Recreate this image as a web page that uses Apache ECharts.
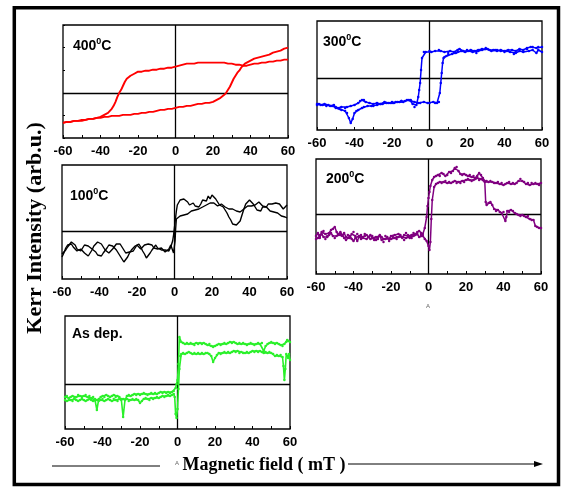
<!DOCTYPE html>
<html><head><meta charset="utf-8">
<script src="https://cdn.jsdelivr.net/npm/echarts@6/dist/echarts.min.js"></script>
<style>html,body{margin:0;padding:0;background:#fff}#c{width:561px;height:488px}</style>
</head><body><div id="c"></div>
<script>
// x ticks (mT)
const xTicks = [-60,-40,-20,0,20,40,60];
const panelLabels = ['400','300','100','200','As dep.'];
const colors = ['#ff0000','#0000ff','#000000','#800080','#2af02a'];

// 400 C (arb. units)
const p400Down = [[60,33],[58,33],[56,32],[54,32],[52,31],[50,31],[48,30],[46,30],[44,29],[42,29],[40,28],[38,27],[36,27],[34,28],[32,28],[30,29],[28,29],[26,30],[24,30],[22,30],[20,30],[18,30],[16,30],[14,30],[12,30],[10,29],[8,29],[6,29],[4,28],[2,27],[0,26],[-2,25],[-4,25],[-6,24],[-8,24],[-10,23],[-12,23],[-14,22],[-16,22],[-18,21],[-20,21],[-22,19],[-24,17],[-26,14],[-27,11],[-28,7],[-29,3],[-30,0],[-31,-4],[-32,-9],[-33,-13],[-34,-16],[-35,-18],[-36,-20],[-38,-22],[-40,-24],[-42,-25],[-44,-26],[-46,-26],[-48,-27],[-50,-27],[-52,-28],[-54,-28],[-56,-29],[-58,-29],[-60,-30]];
const p400Up = [[-60,-30],[-58,-29],[-56,-29],[-54,-28],[-52,-28],[-50,-28],[-48,-27],[-46,-26],[-44,-26],[-42,-25],[-40,-25],[-38,-24],[-36,-24],[-34,-23],[-32,-23],[-30,-23],[-28,-22],[-26,-22],[-24,-22],[-22,-21],[-20,-21],[-18,-20],[-16,-20],[-14,-19],[-12,-19],[-10,-18],[-8,-17],[-6,-17],[-4,-16],[-2,-16],[0,-15],[2,-14],[4,-14],[6,-13],[8,-13],[10,-12],[12,-11],[14,-11],[16,-10],[18,-10],[20,-9],[22,-7],[24,-5],[26,-2],[27,0],[28,3],[29,6],[30,10],[31,14],[32,17],[33,20],[34,22],[35,25],[36,27],[37,29],[38,30],[40,32],[42,34],[44,35],[46,36],[48,37],[50,38],[52,40],[54,41],[56,42],[58,44],[60,45]];

// 300 C
const p300Down = [[60,26],[58,28],[57,25],[55,28],[53,27],[52,29],[50,26],[48,27],[46,25],[45,24],[43,26],[41,27],[40,26],[38,27],[36,28],[35,28],[33,27],[31,29],[30,30],[28,28],[26,27],[25,25],[23,26],[21,27],[20,28],[18,27],[16,29],[15,28],[13,26],[11,27],[10,25],[8,26],[6,27],[5,28],[3,27],[1,26],[0,27],[-2,26],[-3,26],[-4,20],[-4.5,8],[-5,-5],[-5.5,-12],[-6,-19],[-7,-27],[-8,-29],[-9,-26],[-10,-23],[-12,-22],[-14,-24],[-15,-23],[-17,-24],[-19,-25],[-20,-24],[-22,-25],[-24,-24],[-26,-26],[-28,-25],[-30,-26],[-32,-25],[-34,-24],[-35,-22],[-36,-22],[-37,-23],[-38,-25],[-40,-27],[-42,-28],[-44,-29],[-45,-30],[-47,-29],[-49,-30],[-50,-29],[-52,-28],[-54,-27],[-55,-28],[-57,-27],[-59,-26],[-60,-27]];
const p300Up = [[-60,-26],[-58,-27],[-56,-26],[-55,-27],[-53,-28],[-51,-27],[-50,-30],[-48,-31],[-47,-32],[-45,-33],[-44,-35],[-43,-40],[-42,-45],[-41,-41],[-40,-35],[-39,-33],[-38,-32],[-36,-30],[-35,-29],[-33,-28],[-31,-28],[-30,-28],[-28,-27],[-26,-26],[-25,-26],[-23,-25],[-21,-25],[-20,-25],[-18,-24],[-16,-24],[-15,-23],[-13,-23],[-11,-22],[-10,-22],[-8,-24],[-6,-25],[-5,-25],[-3,-24],[-1,-25],[0,-25],[2,-24],[3,-25],[4,-25],[5,-24],[5.5,-15],[6,-5],[6.5,5],[7,15],[7.5,20],[8,21],[9,22],[10,23],[12,24],[14,25],[15,26],[17,27],[19,26],[20,27],[22,28],[24,27],[26,28],[28,29],[30,29],[32,28],[34,28],[36,27],[38,28],[40,27],[42,28],[44,28],[46,27],[48,29],[50,28],[52,30],[54,31],[55,31],[57,30],[58,31],[60,31]];

// 100 C
const p100Down = [[60,26],[59,24],[58,22],[57,24],[56,27],[55,29],[54,28],[53,30],[52,27],[51,25],[50,27],[49,24],[48,22],[47,24],[46,20],[45,18],[44,21],[43,24],[42,27],[41,29],[40,31],[39,30],[38,27],[37,22],[36,16],[35,10],[34,8],[33,6],[32,8],[31,7],[30,11],[29,14],[28,18],[27,21],[26,24],[25,22],[24,26],[23,28],[22,32],[21,34],[20,36],[19,32],[18,35],[17,30],[16,28],[15,31],[14,27],[13,24],[12,22],[11,25],[10,28],[9,30],[8,26],[7,29],[6,31],[5,32],[4,30],[3,31],[2,30],[1.5,26],[1,20],[0.5,12],[0,4],[-0.5,-4],[-1,-10],[-2,-16],[-3,-20],[-4,-22],[-5,-19],[-6,-17],[-7,-19],[-8,-21],[-9,-17],[-10,-14],[-11,-16],[-12,-19],[-13,-22],[-14,-24],[-15,-27],[-16,-23],[-17,-20],[-18,-16],[-19,-13],[-20,-12],[-21,-15],[-22,-17],[-23,-19],[-24,-22],[-25,-26],[-26,-28],[-27,-31],[-28,-28],[-29,-25],[-30,-22],[-31,-19],[-32,-17],[-33,-15],[-34,-16],[-35,-14],[-36,-17],[-37,-19],[-38,-22],[-39,-25],[-40,-27],[-41,-24],[-42,-21],[-43,-19],[-44,-18],[-45,-17],[-46,-15],[-47,-16],[-48,-14],[-49,-17],[-50,-20],[-51,-22],[-52,-18],[-53,-14],[-54,-12],[-55,-11],[-56,-13],[-57,-16],[-58,-19],[-59,-21],[-60,-23]];
const p100Up = [[-60,-26],[-59,-22],[-58,-17],[-57,-14],[-56,-12],[-55,-13],[-54,-16],[-53,-18],[-52,-20],[-51,-19],[-50,-18],[-49,-20],[-48,-22],[-47,-24],[-46,-25],[-45,-23],[-44,-19],[-43,-15],[-42,-13],[-41,-11],[-40,-10],[-39,-13],[-38,-16],[-37,-19],[-36,-21],[-35,-22],[-34,-20],[-33,-18],[-32,-16],[-31,-13],[-30,-11],[-29,-13],[-28,-16],[-27,-19],[-26,-22],[-25,-23],[-24,-21],[-23,-19],[-22,-20],[-21,-17],[-20,-14],[-19,-16],[-18,-18],[-17,-17],[-16,-14],[-15,-12],[-14,-13],[-13,-15],[-12,-14],[-11,-17],[-10,-19],[-9,-18],[-8,-16],[-7,-17],[-6,-19],[-5,-21],[-4,-20],[-3,-18],[-2,-14],[-1,-16],[-0.5,-22],[0,-24],[0.3,-10],[0.6,2],[1,12],[2,14],[3,15],[4,17],[5,16],[6,18],[7,17],[8,19],[9,20],[10,19],[11,21],[12,20],[13,22],[14,23],[15,24],[16,23],[17,26],[18,27],[19,28],[20,29],[21,28],[22,27],[23,25],[24,26],[25,27],[26,25],[27,24],[28,23],[29,22],[30,21],[31,22],[32,21],[33,20],[34,21],[35,19],[36,20],[37,22],[38,24],[39,25],[40,26],[41,25],[42,27],[43,26],[44,28],[45,29],[46,27],[47,25],[48,23],[49,24],[50,22],[51,20],[52,21],[53,19],[54,17],[55,18],[56,16],[57,15],[58,16],[59,14],[60,13]];

// 200 C
const p200Up = [[-60,-22],[-59,-19],[-58,-24],[-57,-18],[-56,-17],[-55,-20],[-54,-22],[-53,-19],[-52,-16],[-51,-15],[-50,-13],[-49,-18],[-48,-21],[-47,-20],[-46,-22],[-45,-19],[-44,-23],[-43,-21],[-42,-24],[-41,-20],[-40,-18],[-39,-22],[-38,-27],[-37,-23],[-36,-21],[-35,-24],[-34,-22],[-33,-25],[-32,-23],[-31,-21],[-30,-24],[-29,-26],[-28,-23],[-27,-25],[-26,-22],[-25,-26],[-24,-28],[-23,-25],[-22,-23],[-21,-25],[-20,-22],[-19,-24],[-18,-21],[-17,-23],[-16,-20],[-15,-22],[-14,-24],[-13,-21],[-12,-19],[-11,-22],[-10,-24],[-9,-21],[-8,-19],[-7,-20],[-6,-18],[-5,-17],[-4,-19],[-3,-20],[-2,-14],[-1,-3],[-0.5,8],[0,16],[0.5,22],[1,28],[2,34],[3,37],[4,38],[5,39],[6,38],[7,41],[8,40],[9,38],[10,39],[11,42],[12,41],[13,43],[14,46],[15,47],[16,43],[17,40],[18,39],[19,40],[20,39],[21,38],[22,39],[23,37],[24,38],[25,36],[26,38],[27,41],[28,39],[29,36],[30,33],[30.5,12],[31,9],[32,11],[33,12],[34,9],[35,5],[36,3],[37,4],[38,2],[39,1],[40,2],[41,-7],[41.5,-3],[42,3],[43,2],[44,4],[45,3],[46,1],[47,0],[48,-1],[49,-2],[50,-1],[51,-2],[52,-3],[53,-2],[54,-5],[55,-6],[56,-6],[57,-12],[58,-13],[59,-14],[60,-14]];
const p200Down = [[60,31],[59,29],[58,30],[57,31],[56,30],[55,31],[54,29],[53,31],[52,30],[51,32],[50,33],[49,35],[48,33],[47,31],[46,30],[45,31],[44,30],[43,32],[42,31],[41,30],[40,29],[39,31],[38,30],[37,32],[36,31],[35,31],[34,32],[33,33],[32,32],[31,33],[30,32],[29,34],[28,35],[27,34],[26,36],[25,35],[24,34],[23,33],[22,34],[21,35],[20,34],[19,32],[18,33],[17,31],[16,32],[15,31],[14,33],[13,32],[12,31],[11,32],[10,31],[9,33],[8,32],[7,31],[6,32],[5,31],[4,30],[3,27],[2,14],[1.5,-5],[1,-28],[0.5,-36],[0,-32],[-1,-27],[-2,-25],[-3,-22],[-4,-21],[-5,-23],[-6,-20],[-7,-21],[-8,-22],[-9,-24],[-10,-23],[-11,-21],[-12,-24],[-13,-26],[-14,-23],[-15,-21],[-16,-23],[-17,-25],[-18,-24],[-19,-22],[-20,-25],[-21,-27],[-22,-24],[-23,-22],[-24,-25],[-25,-23],[-26,-21],[-27,-24],[-28,-26],[-29,-24],[-30,-22],[-31,-25],[-32,-23],[-33,-21],[-34,-20],[-35,-23],[-36,-25],[-37,-22],[-38,-20],[-39,-24],[-40,-27],[-41,-25],[-42,-22],[-43,-24],[-44,-26],[-45,-24],[-46,-21],[-47,-18],[-48,-20],[-49,-22],[-50,-24],[-51,-22],[-52,-19],[-53,-21],[-54,-23],[-55,-25],[-56,-23],[-57,-20],[-58,-21],[-59,-24],[-60,-25]];

// As deposited
const pAsUp = [[-60,-13],[-59,-12],[-58,-14],[-57,-13],[-56,-12],[-55,-14],[-54,-13],[-53,-11],[-52,-12],[-51,-13],[-50,-12],[-49,-11],[-48,-13],[-47,-12],[-46,-14],[-45,-13],[-44,-16],[-43,-26],[-42,-15],[-41,-13],[-40,-12],[-39,-13],[-38,-11],[-37,-12],[-36,-13],[-35,-12],[-34,-11],[-33,-13],[-32,-12],[-31,-13],[-30,-15],[-29,-33],[-28,-16],[-27,-12],[-26,-11],[-25,-12],[-24,-11],[-23,-10],[-22,-11],[-21,-10],[-20,-11],[-19,-10],[-18,-9],[-17,-10],[-16,-11],[-15,-10],[-14,-9],[-13,-10],[-12,-9],[-11,-10],[-10,-9],[-9,-8],[-8,-9],[-7,-8],[-6,-9],[-5,-8],[-4,-9],[-3,-8],[-2,-7],[-1,-4],[-0.5,0],[0,4],[0.5,20],[1,47],[2,42],[3,41],[4,40],[5,41],[6,40],[7,41],[8,40],[9,39],[10,41],[11,40],[12,41],[13,40],[14,41],[15,40],[16,39],[17,40],[18,38],[19,37],[20,38],[21,39],[22,40],[23,39],[24,40],[25,41],[26,40],[27,41],[28,42],[29,41],[30,42],[31,41],[32,40],[33,41],[34,40],[35,41],[36,40],[37,39],[38,40],[39,41],[40,40],[41,39],[42,40],[43,41],[44,40],[45,41],[46,33],[47,38],[48,40],[49,41],[50,42],[51,41],[52,40],[53,41],[54,40],[55,39],[56,38],[57,40],[58,42],[58.5,44],[59,43],[60,42]];
const pAsDown = [[60,24],[59.5,30],[59,26],[58.5,28],[58,30],[57.5,15],[57,4],[56.5,18],[56,27],[55,29],[54,28],[53,29],[52,28],[51,30],[50,31],[49,32],[48,31],[47,32],[46,31],[45,32],[44,33],[43,32],[42,33],[41,32],[40,33],[39,32],[38,31],[37,32],[36,31],[35,31],[34,32],[33,31],[32,33],[31,32],[30,33],[29,32],[28,31],[27,32],[26,31],[25,32],[24,31],[23,30],[22,31],[21,29],[20,26],[19,22],[18,28],[17,30],[16,31],[15,31],[14,30],[13,31],[12,30],[11,31],[10,30],[9,31],[8,30],[7,31],[6,32],[5,31],[4,30],[3,31],[2,30],[1.5,28],[1,15],[0.5,-5],[0,-25],[-0.5,-34],[-1,-30],[-1.5,-13],[-2,-10],[-3,-11],[-4,-12],[-5,-11],[-6,-12],[-7,-13],[-8,-12],[-9,-13],[-10,-14],[-11,-13],[-12,-14],[-13,-15],[-14,-14],[-15,-16],[-16,-15],[-17,-14],[-18,-15],[-19,-17],[-20,-19],[-21,-16],[-22,-15],[-23,-16],[-24,-15],[-25,-16],[-26,-17],[-27,-15],[-28,-16],[-29,-15],[-30,-16],[-31,-15],[-32,-17],[-33,-16],[-34,-15],[-35,-17],[-36,-16],[-37,-15],[-38,-16],[-39,-17],[-40,-15],[-41,-16],[-42,-17],[-43,-16],[-44,-15],[-45,-17],[-46,-16],[-47,-15],[-48,-16],[-49,-17],[-50,-16],[-51,-15],[-52,-16],[-53,-17],[-54,-16],[-55,-15],[-56,-17],[-57,-16],[-58,-15],[-59,-17],[-60,-16]];

const panelData = [[p400Down,p400Up],[p300Down,p300Up],[p100Down,p100Up],[p200Down,p200Up],[pAsDown,pAsUp]];
const yRanges = [[-45,67.5,22.5],[-52,57,null],[-48,66,null],[-60,55,null],[-45,68,null]];
const markers = [false,true,false,true,true];
const widths = [1.9,1.5,1.4,1.5,1.6];

const grids = [
  {left:63, top:25, width:225, height:113},
  {left:317, top:21, width:225, height:109},
  {left:62, top:165, width:225, height:114},
  {left:316, top:159, width:225, height:115},
  {left:65, top:316, width:225, height:113}
];

const chart = echarts.init(document.getElementById('c'), null, {renderer:'canvas'});
const series = [];
panelData.forEach((branches, i) => {
  branches.forEach((d, j) => {
    const s = {
      type:'line', xAxisIndex:i, yAxisIndex:i, data:d,
      showSymbol: markers[i], symbol:'circle', symbolSize:2.5,
      itemStyle:{color:colors[i]},
      lineStyle:{color:colors[i], width:widths[i]},
      silent:true, z:2
    };
    if (j === 0) {
      s.markLine = {silent:true, symbol:'none', label:{show:false},
        lineStyle:{color:'#000', width:1.3, type:'solid'},
        data:[{xAxis:0},{yAxis:0}], z:1};
    }
    series.push(s);
  });
});

const supText = (base, x, y) => ({
  type:'text', left:x, top:y,
  style:{ rich:{ b:{fontSize:14,fontWeight:'bold',fontFamily:'Liberation Sans, Arial',fill:'#000'},
                  s:{fontSize:9,fontWeight:'bold',fontFamily:'Liberation Sans, Arial',fill:'#000',padding:[0,0,9,0]} },
          text:'{b|'+base+'}{s|0}{b|C}' }
});

const option = {
  animation:false,
  backgroundColor:'#fff',
  grid: grids.map(g => Object.assign({show:true, borderColor:'#000', borderWidth:1.3, backgroundColor:'transparent', containLabel:false}, g)),
  xAxis: grids.map((g,i) => ({
    gridIndex:i, type:'value', min:-60, max:60, interval:10, position:'bottom',
    axisLine:{show:false, onZero:false},
    axisTick:{show:true, inside:true, length:3, lineStyle:{color:'#000', width:1}},
    axisLabel:{formatter:v => (xTicks.indexOf(v) >= 0 ? String(v) : ''), fontWeight:'bold', fontSize:13,
      fontFamily:'Liberation Sans, Arial', color:'#000', margin:7},
    splitLine:{show:false}
  })),
  yAxis: grids.map((g,i) => {
    const r = yRanges[i];
    const ax = {gridIndex:i, type:'value', min:r[0], max:r[1], position:'left',
      axisLine:{show:false, onZero:false}, axisLabel:{show:false}, splitLine:{show:false},
      axisTick:{show:r[2]!==null, inside:true, length:2, lineStyle:{color:'#000'}}};
    if (r[2] !== null) ax.interval = r[2];
    return ax;
  }),
  series: series,
  graphic: [
    {type:'rect', shape:{x:14.3, y:7.7, width:544.2, height:476.8}, style:{fill:'none', stroke:'#000', lineWidth:3.5}, silent:true},
    supText('400', 73, 37),
    supText('300', 323, 33),
    supText('100', 70, 187),
    supText('200', 326, 170),
    {type:'text', left:72, top:327, style:{text:'As dep.', fontSize:14, fontWeight:'bold', fontFamily:'Liberation Sans, Arial', fill:'#000'}},
    {type:'text', x:35, y:228, rotation:Math.PI/2, style:{text:'Kerr Intensity (arb.u.)', fontSize:22, fontWeight:'bold', fontFamily:'Liberation Serif, Times New Roman, serif', fill:'#000', align:'center', verticalAlign:'middle'}},
    {type:'text', x:264, y:465, style:{text:'Magnetic field ( mT )', fontSize:18, fontWeight:'bold', fontFamily:'Liberation Serif, Times New Roman, serif', fill:'#000', align:'center', verticalAlign:'middle'}},
    {type:'line', shape:{x1:52, y1:466, x2:160, y2:466}, style:{stroke:'#000', lineWidth:1}},
    {type:'line', shape:{x1:348, y1:464, x2:536, y2:464}, style:{stroke:'#000', lineWidth:1}},
    {type:'polygon', shape:{points:[[543,464],[534,461],[534,467]]}, style:{fill:'#000'}},
    {type:'text', x:177, y:463, style:{text:'A', fontSize:6, fill:'#666', align:'center', verticalAlign:'middle'}},
    {type:'text', x:428, y:306, style:{text:'A', fontSize:6, fill:'#666', align:'center', verticalAlign:'middle'}}
  ]
};
chart.setOption(option);
</script></body></html>
